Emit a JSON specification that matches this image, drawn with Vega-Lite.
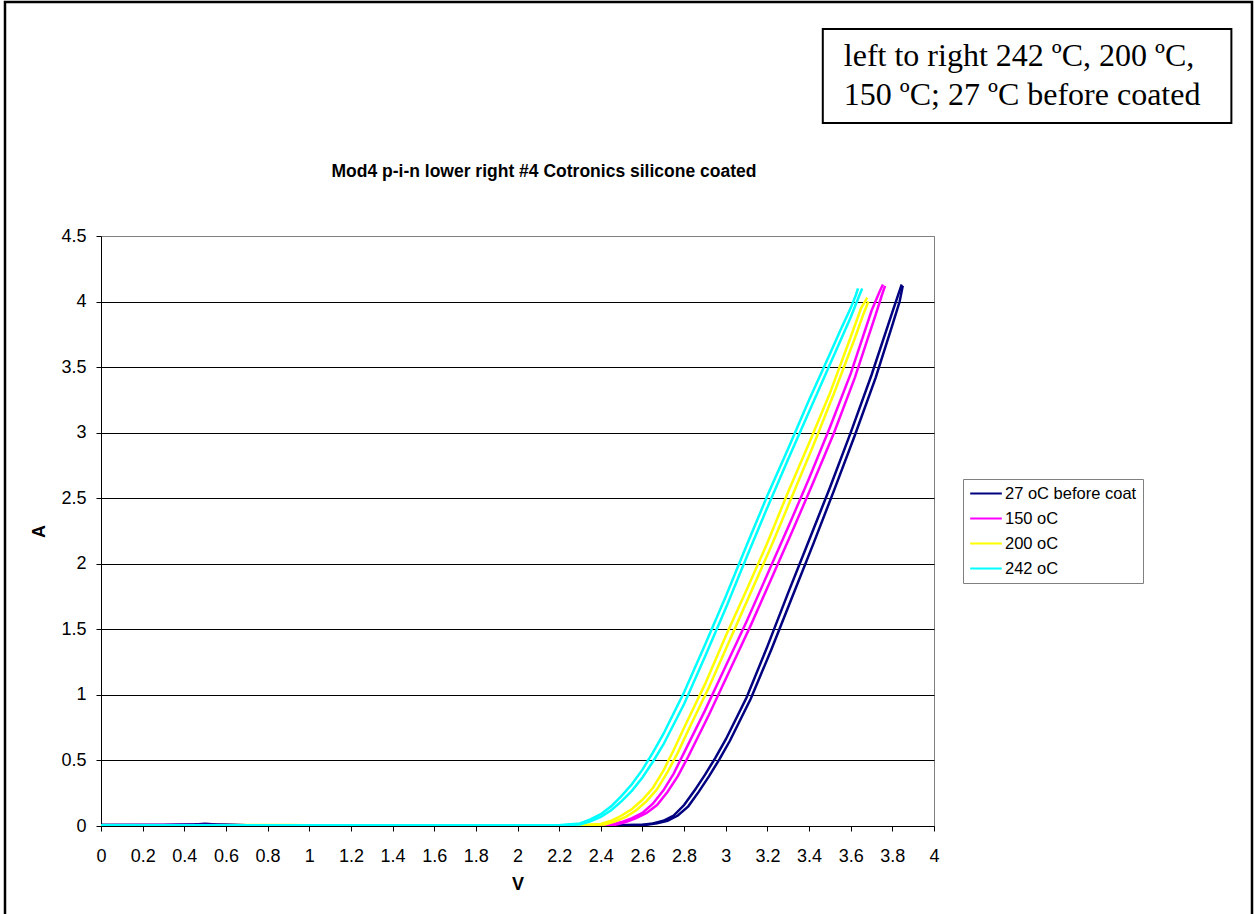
{
  "$schema": "https://vega.github.io/schema/vega-lite/v6.json",
  "autosize": "none",
  "width": 833,
  "height": 590,
  "padding": {"left": 101, "top": 236, "right": 321, "bottom": 88},
  "background": "white",
  "config": {
    "view": {"stroke": "#808080", "strokeWidth": 1},
    "axis": {
      "labelFont": "Liberation Sans",
      "labelFontSize": 18,
      "labelColor": "#000000",
      "titleFont": "Liberation Sans",
      "titleFontSize": 18,
      "titleFontWeight": "bold",
      "titleColor": "#000000",
      "domainColor": "#000000",
      "tickColor": "#000000",
      "tickSize": 5,
      "gridColor": "#000000",
      "gridOpacity": 1
    }
  },
  "layer": [
    {
      "data": {"values": [{"V0": -0.461, "V1": 5.527, "A0": 6.285, "A1": -1.0}]},
      "mark": {"type": "rect", "filled": false, "stroke": "#000000", "strokeWidth": 2.5, "clip": false},
      "encoding": {
        "x": {"field": "V0", "type": "quantitative", "scale": {"domain": [0, 4], "nice": false, "zero": false}},
        "x2": {"field": "V1"},
        "y": {"field": "A0", "type": "quantitative", "scale": {"domain": [0, 4.5], "nice": false, "zero": false}},
        "y2": {"field": "A1"}
      }
    },
    {
      "data": {"values": [{"V0": 3.466, "V1": 5.428, "A0": 6.079, "A1": 5.362}]},
      "mark": {"type": "rect", "filled": false, "stroke": "#000000", "strokeWidth": 2, "clip": false},
      "encoding": {
        "x": {"field": "V0", "type": "quantitative", "scale": {"domain": [0, 4], "nice": false, "zero": false}},
        "x2": {"field": "V1"},
        "y": {"field": "A0", "type": "quantitative", "scale": {"domain": [0, 4.5], "nice": false, "zero": false}},
        "y2": {"field": "A1"}
      }
    },
    {
      "data": {"values": [
        {"V": 3.567, "A": 5.797, "note": "left to right 242 ºC, 200 ºC,"},
        {"V": 3.567, "A": 5.5, "note": "150 ºC; 27 ºC before coated"}
      ]},
      "mark": {"type": "text", "font": "Liberation Serif", "fontSize": 32, "align": "left", "baseline": "alphabetic", "color": "#000000", "clip": false},
      "encoding": {
        "x": {"field": "V", "type": "quantitative", "scale": {"domain": [0, 4], "nice": false, "zero": false}},
        "y": {"field": "A", "type": "quantitative", "scale": {"domain": [0, 4.5], "nice": false, "zero": false}},
        "text": {"field": "note"}
      }
    },
    {
      "data": {"values": [
        {"V": 2.127, "A": 4.989, "heading": "Mod4 p-i-n lower right #4 Cotronics silicone coated"}
      ]},
      "mark": {"type": "text", "font": "Liberation Sans", "fontSize": 17.5, "fontWeight": "bold", "align": "center", "baseline": "middle", "color": "#000000", "clip": false},
      "encoding": {
        "x": {"field": "V", "type": "quantitative", "scale": {"domain": [0, 4], "nice": false, "zero": false}},
        "y": {"field": "A", "type": "quantitative", "scale": {"domain": [0, 4.5], "nice": false, "zero": false}},
        "text": {"field": "heading"}
      }
    },
    {
      "data": {"values": [
        {"s": "27 oC before coat", "t": "a", "V": 0, "A": 0.008},
        {"s": "27 oC before coat", "t": "a", "V": 0.3, "A": 0.008},
        {"s": "27 oC before coat", "t": "a", "V": 0.45, "A": 0.012},
        {"s": "27 oC before coat", "t": "a", "V": 0.5, "A": 0.018},
        {"s": "27 oC before coat", "t": "a", "V": 0.55, "A": 0.012},
        {"s": "27 oC before coat", "t": "a", "V": 0.7, "A": 0.006},
        {"s": "27 oC before coat", "t": "a", "V": 1.0, "A": 0.006},
        {"s": "27 oC before coat", "t": "a", "V": 1.5, "A": 0.005},
        {"s": "27 oC before coat", "t": "a", "V": 2.0, "A": 0.006},
        {"s": "27 oC before coat", "t": "a", "V": 2.5, "A": 0.005},
        {"s": "27 oC before coat", "t": "a", "V": 2.6, "A": 0.01},
        {"s": "27 oC before coat", "t": "a", "V": 2.65, "A": 0.02},
        {"s": "27 oC before coat", "t": "a", "V": 2.7, "A": 0.04},
        {"s": "27 oC before coat", "t": "a", "V": 2.75, "A": 0.08},
        {"s": "27 oC before coat", "t": "a", "V": 2.8, "A": 0.16},
        {"s": "27 oC before coat", "t": "a", "V": 2.85, "A": 0.27},
        {"s": "27 oC before coat", "t": "a", "V": 2.9, "A": 0.39},
        {"s": "27 oC before coat", "t": "a", "V": 2.95, "A": 0.52},
        {"s": "27 oC before coat", "t": "a", "V": 3.0, "A": 0.66},
        {"s": "27 oC before coat", "t": "a", "V": 3.1, "A": 0.98},
        {"s": "27 oC before coat", "t": "a", "V": 3.2, "A": 1.37},
        {"s": "27 oC before coat", "t": "a", "V": 3.3, "A": 1.78},
        {"s": "27 oC before coat", "t": "a", "V": 3.4, "A": 2.18},
        {"s": "27 oC before coat", "t": "a", "V": 3.5, "A": 2.58},
        {"s": "27 oC before coat", "t": "a", "V": 3.6, "A": 3.0},
        {"s": "27 oC before coat", "t": "a", "V": 3.7, "A": 3.44},
        {"s": "27 oC before coat", "t": "a", "V": 3.8, "A": 3.92},
        {"s": "27 oC before coat", "t": "a", "V": 3.83, "A": 4.06},
        {"s": "27 oC before coat", "t": "a", "V": 3.845, "A": 4.13},
        {"s": "27 oC before coat", "t": "b", "V": 0, "A": 0.007},
        {"s": "27 oC before coat", "t": "b", "V": 0.3, "A": 0.008},
        {"s": "27 oC before coat", "t": "b", "V": 0.5, "A": 0.014},
        {"s": "27 oC before coat", "t": "b", "V": 0.7, "A": 0.006},
        {"s": "27 oC before coat", "t": "b", "V": 1.2, "A": 0.005},
        {"s": "27 oC before coat", "t": "b", "V": 1.8, "A": 0.005},
        {"s": "27 oC before coat", "t": "b", "V": 2.5, "A": 0.005},
        {"s": "27 oC before coat", "t": "b", "V": 2.62, "A": 0.01},
        {"s": "27 oC before coat", "t": "b", "V": 2.67, "A": 0.02},
        {"s": "27 oC before coat", "t": "b", "V": 2.72, "A": 0.04},
        {"s": "27 oC before coat", "t": "b", "V": 2.77, "A": 0.08},
        {"s": "27 oC before coat", "t": "b", "V": 2.82, "A": 0.15},
        {"s": "27 oC before coat", "t": "b", "V": 2.87, "A": 0.26},
        {"s": "27 oC before coat", "t": "b", "V": 2.92, "A": 0.38},
        {"s": "27 oC before coat", "t": "b", "V": 2.97, "A": 0.51},
        {"s": "27 oC before coat", "t": "b", "V": 3.02, "A": 0.65},
        {"s": "27 oC before coat", "t": "b", "V": 3.12, "A": 0.97},
        {"s": "27 oC before coat", "t": "b", "V": 3.22, "A": 1.35},
        {"s": "27 oC before coat", "t": "b", "V": 3.32, "A": 1.75},
        {"s": "27 oC before coat", "t": "b", "V": 3.42, "A": 2.15},
        {"s": "27 oC before coat", "t": "b", "V": 3.52, "A": 2.56},
        {"s": "27 oC before coat", "t": "b", "V": 3.62, "A": 2.98},
        {"s": "27 oC before coat", "t": "b", "V": 3.72, "A": 3.42},
        {"s": "27 oC before coat", "t": "b", "V": 3.8, "A": 3.82},
        {"s": "27 oC before coat", "t": "b", "V": 3.835, "A": 4.0},
        {"s": "27 oC before coat", "t": "b", "V": 3.85, "A": 4.12},

        {"s": "150 oC", "t": "a", "V": 0, "A": 0.006},
        {"s": "150 oC", "t": "a", "V": 0.3, "A": 0.008},
        {"s": "150 oC", "t": "a", "V": 1.0, "A": 0.005},
        {"s": "150 oC", "t": "a", "V": 1.5, "A": 0.005},
        {"s": "150 oC", "t": "a", "V": 2.0, "A": 0.005},
        {"s": "150 oC", "t": "a", "V": 2.4, "A": 0.005},
        {"s": "150 oC", "t": "a", "V": 2.45, "A": 0.01},
        {"s": "150 oC", "t": "a", "V": 2.5, "A": 0.03},
        {"s": "150 oC", "t": "a", "V": 2.55, "A": 0.06},
        {"s": "150 oC", "t": "a", "V": 2.6, "A": 0.1},
        {"s": "150 oC", "t": "a", "V": 2.65, "A": 0.17},
        {"s": "150 oC", "t": "a", "V": 2.7, "A": 0.27},
        {"s": "150 oC", "t": "a", "V": 2.75, "A": 0.4},
        {"s": "150 oC", "t": "a", "V": 2.8, "A": 0.56},
        {"s": "150 oC", "t": "a", "V": 2.85, "A": 0.72},
        {"s": "150 oC", "t": "a", "V": 2.9, "A": 0.88},
        {"s": "150 oC", "t": "a", "V": 3.0, "A": 1.22},
        {"s": "150 oC", "t": "a", "V": 3.1, "A": 1.56},
        {"s": "150 oC", "t": "a", "V": 3.2, "A": 1.92},
        {"s": "150 oC", "t": "a", "V": 3.3, "A": 2.28},
        {"s": "150 oC", "t": "a", "V": 3.4, "A": 2.65},
        {"s": "150 oC", "t": "a", "V": 3.5, "A": 3.04},
        {"s": "150 oC", "t": "a", "V": 3.6, "A": 3.45},
        {"s": "150 oC", "t": "a", "V": 3.7, "A": 3.93},
        {"s": "150 oC", "t": "a", "V": 3.74, "A": 4.08},
        {"s": "150 oC", "t": "a", "V": 3.755, "A": 4.13},
        {"s": "150 oC", "t": "b", "V": 0, "A": 0.005},
        {"s": "150 oC", "t": "b", "V": 0.6, "A": 0.005},
        {"s": "150 oC", "t": "b", "V": 1.2, "A": 0.005},
        {"s": "150 oC", "t": "b", "V": 1.8, "A": 0.004},
        {"s": "150 oC", "t": "b", "V": 2.4, "A": 0.005},
        {"s": "150 oC", "t": "b", "V": 2.47, "A": 0.01},
        {"s": "150 oC", "t": "b", "V": 2.52, "A": 0.03},
        {"s": "150 oC", "t": "b", "V": 2.57, "A": 0.06},
        {"s": "150 oC", "t": "b", "V": 2.62, "A": 0.1},
        {"s": "150 oC", "t": "b", "V": 2.67, "A": 0.16},
        {"s": "150 oC", "t": "b", "V": 2.72, "A": 0.26},
        {"s": "150 oC", "t": "b", "V": 2.77, "A": 0.38},
        {"s": "150 oC", "t": "b", "V": 2.82, "A": 0.53},
        {"s": "150 oC", "t": "b", "V": 2.87, "A": 0.69},
        {"s": "150 oC", "t": "b", "V": 2.92, "A": 0.85},
        {"s": "150 oC", "t": "b", "V": 3.02, "A": 1.19},
        {"s": "150 oC", "t": "b", "V": 3.12, "A": 1.53},
        {"s": "150 oC", "t": "b", "V": 3.22, "A": 1.89},
        {"s": "150 oC", "t": "b", "V": 3.32, "A": 2.25},
        {"s": "150 oC", "t": "b", "V": 3.42, "A": 2.62},
        {"s": "150 oC", "t": "b", "V": 3.52, "A": 3.0},
        {"s": "150 oC", "t": "b", "V": 3.62, "A": 3.42},
        {"s": "150 oC", "t": "b", "V": 3.72, "A": 3.9},
        {"s": "150 oC", "t": "b", "V": 3.75, "A": 4.05},
        {"s": "150 oC", "t": "b", "V": 3.765, "A": 4.12},

        {"s": "200 oC", "t": "a", "V": 0, "A": 0.005},
        {"s": "200 oC", "t": "a", "V": 0.5, "A": 0.005},
        {"s": "200 oC", "t": "a", "V": 0.9, "A": 0.008},
        {"s": "200 oC", "t": "a", "V": 1.0, "A": 0.005},
        {"s": "200 oC", "t": "a", "V": 1.5, "A": 0.005},
        {"s": "200 oC", "t": "a", "V": 2.0, "A": 0.005},
        {"s": "200 oC", "t": "a", "V": 2.3, "A": 0.005},
        {"s": "200 oC", "t": "a", "V": 2.4, "A": 0.015},
        {"s": "200 oC", "t": "a", "V": 2.45, "A": 0.04},
        {"s": "200 oC", "t": "a", "V": 2.5, "A": 0.08},
        {"s": "200 oC", "t": "a", "V": 2.55, "A": 0.13},
        {"s": "200 oC", "t": "a", "V": 2.6, "A": 0.2},
        {"s": "200 oC", "t": "a", "V": 2.65, "A": 0.29},
        {"s": "200 oC", "t": "a", "V": 2.7, "A": 0.42},
        {"s": "200 oC", "t": "a", "V": 2.75, "A": 0.58},
        {"s": "200 oC", "t": "a", "V": 2.8, "A": 0.75},
        {"s": "200 oC", "t": "a", "V": 2.9, "A": 1.08},
        {"s": "200 oC", "t": "a", "V": 3.0, "A": 1.45},
        {"s": "200 oC", "t": "a", "V": 3.1, "A": 1.8},
        {"s": "200 oC", "t": "a", "V": 3.2, "A": 2.16},
        {"s": "200 oC", "t": "a", "V": 3.3, "A": 2.55},
        {"s": "200 oC", "t": "a", "V": 3.4, "A": 2.92},
        {"s": "200 oC", "t": "a", "V": 3.5, "A": 3.3},
        {"s": "200 oC", "t": "a", "V": 3.6, "A": 3.73},
        {"s": "200 oC", "t": "a", "V": 3.65, "A": 3.95},
        {"s": "200 oC", "t": "a", "V": 3.68, "A": 4.03},
        {"s": "200 oC", "t": "b", "V": 0, "A": 0.004},
        {"s": "200 oC", "t": "b", "V": 0.6, "A": 0.005},
        {"s": "200 oC", "t": "b", "V": 1.2, "A": 0.004},
        {"s": "200 oC", "t": "b", "V": 1.8, "A": 0.005},
        {"s": "200 oC", "t": "b", "V": 2.3, "A": 0.005},
        {"s": "200 oC", "t": "b", "V": 2.42, "A": 0.012},
        {"s": "200 oC", "t": "b", "V": 2.47, "A": 0.035},
        {"s": "200 oC", "t": "b", "V": 2.52, "A": 0.07},
        {"s": "200 oC", "t": "b", "V": 2.57, "A": 0.12},
        {"s": "200 oC", "t": "b", "V": 2.62, "A": 0.19},
        {"s": "200 oC", "t": "b", "V": 2.67, "A": 0.28},
        {"s": "200 oC", "t": "b", "V": 2.72, "A": 0.41},
        {"s": "200 oC", "t": "b", "V": 2.77, "A": 0.56},
        {"s": "200 oC", "t": "b", "V": 2.82, "A": 0.73},
        {"s": "200 oC", "t": "b", "V": 2.92, "A": 1.06},
        {"s": "200 oC", "t": "b", "V": 3.02, "A": 1.42},
        {"s": "200 oC", "t": "b", "V": 3.12, "A": 1.78},
        {"s": "200 oC", "t": "b", "V": 3.22, "A": 2.14},
        {"s": "200 oC", "t": "b", "V": 3.32, "A": 2.52},
        {"s": "200 oC", "t": "b", "V": 3.42, "A": 2.9},
        {"s": "200 oC", "t": "b", "V": 3.52, "A": 3.3},
        {"s": "200 oC", "t": "b", "V": 3.62, "A": 3.72},
        {"s": "200 oC", "t": "b", "V": 3.66, "A": 3.9},
        {"s": "200 oC", "t": "b", "V": 3.685, "A": 4.0},

        {"s": "242 oC", "t": "a", "V": 0, "A": 0.005},
        {"s": "242 oC", "t": "a", "V": 0.5, "A": 0.006},
        {"s": "242 oC", "t": "a", "V": 1.0, "A": 0.005},
        {"s": "242 oC", "t": "a", "V": 1.5, "A": 0.005},
        {"s": "242 oC", "t": "a", "V": 2.0, "A": 0.005},
        {"s": "242 oC", "t": "a", "V": 2.2, "A": 0.006},
        {"s": "242 oC", "t": "a", "V": 2.3, "A": 0.02},
        {"s": "242 oC", "t": "a", "V": 2.35, "A": 0.05},
        {"s": "242 oC", "t": "a", "V": 2.4, "A": 0.09},
        {"s": "242 oC", "t": "a", "V": 2.45, "A": 0.15},
        {"s": "242 oC", "t": "a", "V": 2.5, "A": 0.23},
        {"s": "242 oC", "t": "a", "V": 2.55, "A": 0.32},
        {"s": "242 oC", "t": "a", "V": 2.6, "A": 0.43},
        {"s": "242 oC", "t": "a", "V": 2.65, "A": 0.56},
        {"s": "242 oC", "t": "a", "V": 2.7, "A": 0.7},
        {"s": "242 oC", "t": "a", "V": 2.8, "A": 1.02},
        {"s": "242 oC", "t": "a", "V": 2.9, "A": 1.38},
        {"s": "242 oC", "t": "a", "V": 3.0, "A": 1.75},
        {"s": "242 oC", "t": "a", "V": 3.1, "A": 2.14},
        {"s": "242 oC", "t": "a", "V": 3.2, "A": 2.52},
        {"s": "242 oC", "t": "a", "V": 3.3, "A": 2.88},
        {"s": "242 oC", "t": "a", "V": 3.4, "A": 3.25},
        {"s": "242 oC", "t": "a", "V": 3.5, "A": 3.6},
        {"s": "242 oC", "t": "a", "V": 3.55, "A": 3.78},
        {"s": "242 oC", "t": "a", "V": 3.6, "A": 3.95},
        {"s": "242 oC", "t": "a", "V": 3.625, "A": 4.05},
        {"s": "242 oC", "t": "a", "V": 3.635, "A": 4.1},
        {"s": "242 oC", "t": "b", "V": 0, "A": 0.004},
        {"s": "242 oC", "t": "b", "V": 0.6, "A": 0.005},
        {"s": "242 oC", "t": "b", "V": 1.2, "A": 0.005},
        {"s": "242 oC", "t": "b", "V": 1.8, "A": 0.005},
        {"s": "242 oC", "t": "b", "V": 2.2, "A": 0.005},
        {"s": "242 oC", "t": "b", "V": 2.3, "A": 0.012},
        {"s": "242 oC", "t": "b", "V": 2.35, "A": 0.035},
        {"s": "242 oC", "t": "b", "V": 2.4, "A": 0.07},
        {"s": "242 oC", "t": "b", "V": 2.45, "A": 0.12},
        {"s": "242 oC", "t": "b", "V": 2.5, "A": 0.19},
        {"s": "242 oC", "t": "b", "V": 2.55, "A": 0.27},
        {"s": "242 oC", "t": "b", "V": 2.6, "A": 0.37},
        {"s": "242 oC", "t": "b", "V": 2.65, "A": 0.49},
        {"s": "242 oC", "t": "b", "V": 2.7, "A": 0.62},
        {"s": "242 oC", "t": "b", "V": 2.8, "A": 0.93},
        {"s": "242 oC", "t": "b", "V": 2.9, "A": 1.29},
        {"s": "242 oC", "t": "b", "V": 3.0, "A": 1.66},
        {"s": "242 oC", "t": "b", "V": 3.1, "A": 2.05},
        {"s": "242 oC", "t": "b", "V": 3.2, "A": 2.43},
        {"s": "242 oC", "t": "b", "V": 3.3, "A": 2.8},
        {"s": "242 oC", "t": "b", "V": 3.4, "A": 3.16},
        {"s": "242 oC", "t": "b", "V": 3.5, "A": 3.52},
        {"s": "242 oC", "t": "b", "V": 3.55, "A": 3.7},
        {"s": "242 oC", "t": "b", "V": 3.6, "A": 3.88},
        {"s": "242 oC", "t": "b", "V": 3.64, "A": 4.04},
        {"s": "242 oC", "t": "b", "V": 3.655, "A": 4.1}
      ]},
      "mark": {"type": "line", "strokeWidth": 2.5, "clip": true},
      "encoding": {
        "x": {
          "field": "V",
          "type": "quantitative",
          "scale": {"domain": [0, 4], "nice": false, "zero": false},
          "axis": {
            "title": "V",
            "grid": false,
            "values": [0, 0.2, 0.4, 0.6, 0.8, 1, 1.2, 1.4, 1.6, 1.8, 2, 2.2, 2.4, 2.6, 2.8, 3, 3.2, 3.4, 3.6, 3.8, 4],
            "format": "~g",
            "labelPadding": 16,
            "titlePadding": 10,
            "labelFlush": false,
            "labelOverlap": false
          }
        },
        "y": {
          "field": "A",
          "type": "quantitative",
          "scale": {"domain": [0, 4.5], "nice": false, "zero": false},
          "axis": {
            "title": "A",
            "grid": true,
            "gridColor": {"condition": {"test": "datum.value >= 4.5", "value": "#808080"}, "value": "#000000"},
            "values": [0, 0.5, 1, 1.5, 2, 2.5, 3, 3.5, 4, 4.5],
            "format": "~g",
            "labelPadding": 10,
            "titlePadding": 12,
            "labelFlush": false,
            "labelOverlap": false
          }
        },
        "color": {
          "field": "s",
          "type": "nominal",
          "scale": {
            "domain": ["27 oC before coat", "150 oC", "200 oC", "242 oC"],
            "range": ["#000080", "#FF00FF", "#FFFF00", "#00FFFF"]
          },
          "legend": {
            "title": null,
            "orient": "none",
            "legendX": 862,
            "legendY": 243,
            "strokeColor": "#808080",
            "fillColor": "white",
            "padding": 6,
            "symbolType": "stroke",
            "symbolSize": 1000,
            "symbolStrokeWidth": 2,
            "labelFont": "Liberation Sans",
            "labelFontSize": 16.5,
            "labelColor": "#000000",
            "labelOffset": 2,
            "labelLimit": 300,
            "clipHeight": 17,
            "rowPadding": 8
          }
        },
        "detail": {"field": "t"}
      }
    }
  ]
}
